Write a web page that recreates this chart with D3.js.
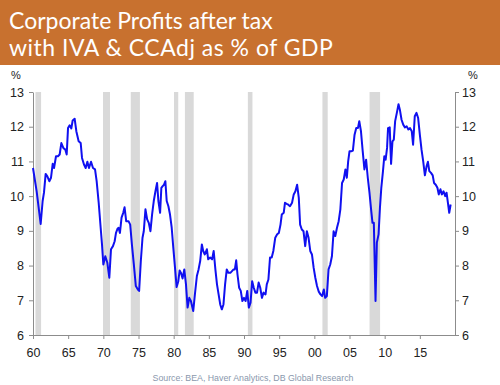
<!DOCTYPE html>
<html>
<head>
<meta charset="utf-8">
<script src="https://cdn.jsdelivr.net/npm/d3@7"></script>
<style>
  body { margin: 0; background: #fff; }
  svg { display: block; }
</style>
</head>
<body>
<div id="chart"></div>
<script>
// Datos (fecha decimal, % del PIB)
const years = [
  1960.0, 1960.52, 1961.09, 1961.37, 1961.56, 1961.8, 1962.04, 1962.32, 1962.56, 1962.8, 1962.99,
  1963.27, 1963.55, 1963.79, 1964.03, 1964.31, 1964.6, 1964.79, 1964.98, 1965.21, 1965.45, 1965.64,
  1965.92, 1966.16, 1966.49, 1966.78, 1966.97, 1967.25, 1967.49, 1967.73, 1967.96, 1968.25, 1968.53,
  1968.82, 1969.05, 1969.34, 1969.62, 1969.81, 1970.0, 1970.28, 1970.57, 1970.85, 1971.09, 1971.37,
  1971.61, 1971.8, 1972.04, 1972.17, 1972.36, 1972.59, 1972.83, 1973.02, 1973.25, 1973.58, 1973.82,
  1974.06, 1974.34, 1974.62, 1974.91, 1975.09, 1975.33, 1975.57, 1975.75, 1975.99, 1976.23, 1976.46,
  1976.7, 1976.93, 1977.17, 1977.41, 1977.64, 1977.83, 1978.07, 1978.25, 1978.44, 1978.63, 1978.82,
  1979.01, 1979.25, 1979.48, 1979.72, 1979.95, 1980.19, 1980.42, 1980.66, 1980.85, 1981.04, 1981.27,
  1981.51, 1981.75, 1981.98, 1982.22, 1982.45, 1982.78, 1983.02, 1983.3, 1983.54, 1983.77, 1984.01,
  1984.2, 1984.43, 1984.72, 1984.91, 1985.19, 1985.46, 1985.69, 1985.93, 1986.16, 1986.39, 1986.62,
  1986.85, 1987.08, 1987.31, 1987.55, 1987.78, 1988.06, 1988.29, 1988.52, 1988.7, 1988.89, 1989.07,
  1989.31, 1989.54, 1989.77, 1990.0, 1990.23, 1990.46, 1990.69, 1990.93, 1991.16, 1991.39, 1991.62,
  1991.85, 1992.08, 1992.31, 1992.55, 1992.78, 1993.06, 1993.24, 1993.47, 1993.7, 1993.94, 1994.17,
  1994.44, 1994.72, 1994.95, 1995.19, 1995.37, 1995.65, 1995.83, 1996.05, 1996.25, 1996.54, 1996.83,
  1997.07, 1997.31, 1997.55, 1997.79, 1997.98, 1998.22, 1998.46, 1998.7, 1998.94, 1999.18, 1999.42,
  1999.66, 1999.9, 2000.14, 2000.38, 2000.63, 2000.87, 2001.11, 2001.35, 2001.54, 2001.78, 2002.02,
  2002.26, 2002.5, 2002.74, 2002.98, 2003.22, 2003.46, 2003.7, 2003.94, 2004.18, 2004.42, 2004.62,
  2004.81, 2005.0, 2005.24, 2005.48, 2005.72, 2005.96, 2006.2, 2006.39, 2006.63, 2006.88, 2007.12,
  2007.36, 2007.6, 2007.84, 2008.08, 2008.27, 2008.46, 2008.7, 2008.89, 2009.13, 2009.33, 2009.52,
  2009.76, 2009.95, 2010.14, 2010.34, 2010.48, 2010.72, 2010.91, 2011.11, 2011.3, 2011.49, 2011.73,
  2011.97, 2012.16, 2012.4, 2012.64, 2012.88, 2013.13, 2013.37, 2013.61, 2013.85, 2014.04, 2014.28,
  2014.52, 2014.76, 2015.0, 2015.24, 2015.48, 2015.72, 2015.96, 2016.15, 2016.35, 2016.59, 2016.83,
  2017.02, 2017.26, 2017.5, 2017.69, 2017.93, 2018.13, 2018.37, 2018.61, 2018.8, 2018.99, 2019.18,
  2019.38
];
const profits = [
  10.81, 10.14, 9.2, 9.86, 10.1, 10.64, 10.57, 10.43, 10.53, 10.93, 10.81,
  11.15, 11.15, 11.2, 11.53, 11.39, 11.34, 11.2, 11.96, 12.04, 11.95, 12.18,
  12.23, 11.87, 11.58, 11.53, 11.1, 10.91, 10.81, 10.99, 10.81, 10.99, 10.81,
  10.77, 10.43, 9.81, 9.09, 8.61, 8.03, 8.27, 8.08, 7.65, 8.47, 8.56,
  8.7, 8.94, 9.07, 9.09, 8.94, 9.38, 9.52, 9.68, 9.28, 9.28, 9.18,
  8.61, 8.03, 7.41, 7.31, 7.27, 8.13, 8.8, 8.99, 9.62, 9.33, 9.23,
  8.99, 9.47, 9.86, 10.14, 10.38, 9.86, 9.52, 10.24, 10.29, 10.33, 10.43,
  9.86, 9.71, 9.47, 9.09, 8.51, 7.94, 7.38, 7.55, 7.86, 7.79, 7.63,
  7.89, 7.46, 6.79, 7.07, 6.98, 6.69, 7.17, 7.7, 7.89, 8.13, 8.61,
  8.42, 8.32, 8.47, 8.18, 8.23, 8.18, 8.42, 7.89, 7.46, 7.17, 6.88,
  6.74, 6.88, 7.46, 7.89, 7.79, 7.79, 7.84, 7.89, 7.89, 8.15, 7.75,
  7.36, 7.27, 6.98, 7.07, 6.98, 7.27, 6.79, 6.93, 7.55, 7.36, 7.22,
  7.22, 7.51, 7.36, 7.07, 7.22, 7.17, 7.46, 7.6, 8.23, 8.23, 8.42,
  8.8, 8.9, 8.94, 9.18, 9.47, 9.52, 9.81, 9.78, 9.76, 9.71, 9.81,
  10.05, 10.14, 10.33, 9.95, 9.18, 9.04, 8.99, 8.56, 8.99, 8.8, 8.42,
  8.32, 7.94, 7.65, 7.41, 7.25, 7.17, 7.12, 7.31, 7.07, 7.12, 7.89,
  8.03, 8.27, 8.99, 8.85, 9.09, 9.28, 9.62, 10.38, 10.48, 10.77, 10.53,
  11.0, 11.29, 11.29, 11.31, 11.77, 11.96, 11.96, 12.16, 11.87, 11.29, 10.77,
  11.05, 10.53, 10.1, 9.6, 9.23, 9.23, 6.98, 8.66, 8.9, 9.67, 10.24,
  10.72, 11.15, 11.05, 11.39, 11.96, 11.98, 10.93, 11.58, 11.63, 12.16, 12.4,
  12.65, 12.49, 12.2, 12.06, 11.98, 12.01, 11.92, 11.96, 11.87, 11.48, 12.3,
  12.4, 12.25, 11.77, 11.34, 11.0, 10.6, 10.86, 10.99, 10.72, 10.67, 10.6,
  10.38, 10.33, 10.24, 10.05, 10.2, 10.05, 10.14, 10.0, 10.1, 9.81, 9.52,
  9.76
];

// Recesiones (barras grises)
const recessionStart = [1960.35, 1969.95, 1973.9, 1980.05, 1981.6, 1990.55, 2001.15, 2007.85];
const recessionEnd   = [1961.15, 1970.95, 1975.2, 1980.65, 1982.85, 1991.2, 2001.9, 2009.35];

const yTicks = [6, 7, 8, 9, 10, 11, 12, 13];
const xTicks = [1960, 1965, 1970, 1975, 1980, 1985, 1990, 1995, 2000, 2005, 2010, 2015];
const xTickLabels = ["60", "65", "70", "75", "80", "85", "90", "95", "00", "05", "10", "15"];

const titleLines = ["Corporate Profits after tax", "with IVA & CCAdj as % of GDP"];
const sourceText = "Source:  BEA, Haver Analytics, DB Global  Research";

const width = 500, height = 385;
const plot = { left: 33, right: 455, top: 92, bottom: 335 };

const svg = d3.select("#chart").append("svg")
    .attr("width", width)
    .attr("height", height);

svg.append("rect").attr("width", width).attr("height", height).attr("fill", "#fff");

// Cabecera naranja
svg.append("rect")
    .attr("x", 0).attr("y", 0)
    .attr("width", width).attr("height", 65)
    .attr("fill", "#c8712f");

svg.selectAll("text.title")
    .data(titleLines)
    .enter().append("text")
    .attr("class", "title")
    .attr("x", 9)
    .attr("y", (d, i) => 29 + i * 27)
    .attr("font-family", "Lato, 'Open Sans', sans-serif")
    .attr("font-size", 23)
    .attr("letter-spacing", (d, i) => i === 1 ? 0.5 : 0)
    .attr("fill", "#fff")
    .text(d => d);

const x = d3.scaleLinear().domain([1960, 2020]).range([plot.left, plot.right]);
const y = d3.scaleLinear().domain([6, 13]).range([plot.bottom, plot.top]);

// Barras de recesion
svg.selectAll("rect.rec")
    .data(recessionStart)
    .enter().append("rect")
    .attr("class", "rec")
    .attr("x", d => x(d))
    .attr("y", plot.top)
    .attr("width", (d, i) => x(recessionEnd[i]) - x(d))
    .attr("height", plot.bottom - plot.top)
    .attr("fill", "#d9d9d9");

// Ejes
const font = "Arial, 'Liberation Sans', sans-serif";

const yLeft = svg.append("g")
    .attr("transform", `translate(${plot.left},0)`)
    .call(d3.axisLeft(y).tickValues(yTicks).tickFormat(d3.format("d"))
        .tickSize(4).tickSizeOuter(0).tickPadding(5));
const yRight = svg.append("g")
    .attr("transform", `translate(${plot.right},0)`)
    .call(d3.axisRight(y).tickValues(yTicks).tickFormat(d3.format("d"))
        .tickSize(4).tickSizeOuter(0).tickPadding(3));
const xAxis = svg.append("g")
    .attr("transform", `translate(0,${plot.bottom})`)
    .call(d3.axisBottom(x).tickValues(xTicks).tickSize(4).tickSizeOuter(0).tickPadding(9)
        .tickFormat((d, i) => xTickLabels[i]));

[yLeft, yRight, xAxis].forEach(g => {
    g.selectAll("path, line").attr("stroke", "#8c8c8c");
    g.selectAll("text")
        .attr("font-family", font)
        .attr("font-size", 12.5)
        .attr("fill", "#222");
});

// Linea de beneficios
const line = d3.line()
    .x((d, i) => x(years[i]))
    .y(d => y(d));

svg.append("path")
    .datum(profits)
    .attr("d", line)
    .attr("fill", "none")
    .attr("stroke", "#1010f0")
    .attr("stroke-width", 2)
    .attr("stroke-linejoin", "round");

// Simbolos de porcentaje
svg.append("text")
    .attr("x", 11).attr("y", 79)
    .attr("font-family", font).attr("font-size", 11).attr("fill", "#222")
    .text("%");
svg.append("text")
    .attr("x", 468).attr("y", 79)
    .attr("font-family", font).attr("font-size", 11).attr("fill", "#222")
    .text("%");

// Fuente
svg.append("text")
    .attr("x", 253).attr("y", 381)
    .attr("text-anchor", "middle")
    .attr("font-family", font)
    .attr("font-size", 8.8)
    .attr("fill", "#8a98ad")
    .text(sourceText);
</script>
</body>
</html>
